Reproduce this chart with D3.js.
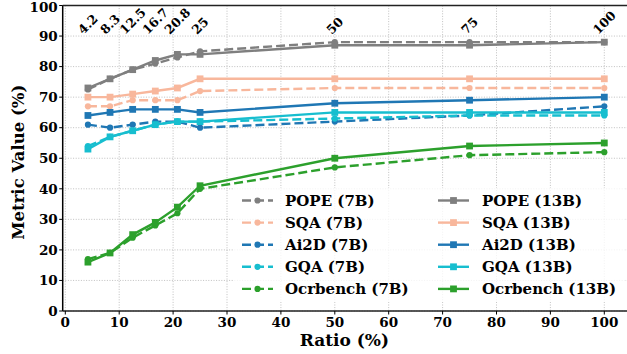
<!DOCTYPE html>
<html>
<head>
<meta charset="utf-8">
<script src="https://cdn.jsdelivr.net/npm/d3@7"></script>
<style>
  html, body { margin: 0; padding: 0; background: #fff; }
  svg { display: block; }
  svg text { font-family: 'DejaVu Serif', 'Liberation Serif', serif; font-weight: 700; }
</style>
</head>
<body>
<div id="chart"></div>
<script>
// Ratio (%) values on the x axis
const ratios = [4.2, 8.3, 12.5, 16.7, 20.8, 25, 50, 75, 100];
const ratioLabels = ['4.2', '8.3', '12.5', '16.7', '20.8', '25', '50', '75', '100'];

const benchmarks = ['POPE', 'SQA', 'Ai2D', 'GQA', 'Ocrbench'];
const benchColors = ['#7f7f7f', '#f8b79c', '#1f77b4', '#17becf', '#2ca02c'];

// 7B (dashed, circles)
const pope7 = [72.5, 76, 79, 81, 83, 85, 88, 88, 88];
const sqa7 = [67, 67, 69, 69, 69, 72, 73, 73, 73];
const ai2d7 = [61, 60, 61, 62, 62, 60, 62, 64, 67];
const gqa7 = [54, 57, 59, 61, 62, 62, 63, 64, 64];
const ocr7 = [17, 19, 24, 28, 32, 40, 47, 51, 52];

// 13B (solid, squares)
const pope13 = [73, 76, 79, 82, 84, 84, 87, 87, 88];
const sqa13 = [70, 70, 71, 72, 73, 76, 76, 76, 76];
const ai2d13 = [64, 65, 66, 66, 66, 65, 68, 69, 70];
const gqa13 = [53, 57, 59, 61, 62, 62, 65, 65, 65];
const ocr13 = [16, 19, 25, 29, 34, 41, 50, 54, 55];

const values7 = [pope7, sqa7, ai2d7, gqa7, ocr7];
const values13 = [pope13, sqa13, ai2d13, gqa13, ocr13];

const yTicks = d3.range(0, 101, 10);
const xTicks = d3.range(0, 101, 10);

const W = 627, H = 354;
const plot = { left: 62.7, right: 632, top: 5.5, bottom: 311 };

const svg = d3.select('#chart').append('svg')
  .attr('width', W).attr('height', H);

const x = d3.scaleLinear().domain([0, 100]).range([65.3, 604.3]);
const y = d3.scaleLinear().domain([0, 100]).range([plot.bottom, plot.top]);

// grid
const grid = svg.append('g').attr('stroke', '#b0b0b0').attr('stroke-width', 0.8)
  .attr('stroke-dasharray', '1,1.6');
grid.selectAll('.gx').data(xTicks).enter().append('line')
  .attr('x1', d => x(d)).attr('x2', d => x(d))
  .attr('y1', plot.top).attr('y2', plot.bottom);
grid.selectAll('.gy').data(yTicks).enter().append('line')
  .attr('x1', plot.left).attr('x2', plot.right)
  .attr('y1', d => y(d)).attr('y2', d => y(d));

// series
const line = d3.line().x((d, i) => x(ratios[i])).y(d => y(d));
const series = [];
benchmarks.forEach((b, k) => {
  series.push({ name: b + ' (7B)', color: benchColors[k], vals: values7[k], dashed: true });
  series.push({ name: b + ' (13B)', color: benchColors[k], vals: values13[k], dashed: false });
});

const lw = 2.4;
function drawMarker(g, cx, cy, s) {
  if (s.dashed) {
    g.append('circle').attr('cx', cx).attr('cy', cy).attr('r', 3.1).attr('fill', s.color);
  } else {
    g.append('rect').attr('x', cx - 3.4).attr('y', cy - 3.4).attr('width', 6.8).attr('height', 6.8)
      .attr('fill', s.color);
  }
}

series.forEach(s => {
  const g = svg.append('g');
  g.append('path').attr('d', line(s.vals)).attr('fill', 'none')
    .attr('stroke', s.color).attr('stroke-width', lw)
    .attr('stroke-dasharray', s.dashed ? '9,4' : null);
  s.vals.forEach((v, i) => drawMarker(g, x(ratios[i]), y(v), s));
});

// spines
svg.append('line').attr('x1', plot.left).attr('x2', plot.left).attr('y1', plot.top).attr('y2', plot.bottom)
  .attr('stroke', '#000').attr('stroke-width', 1.5);
svg.append('line').attr('x1', plot.left).attr('x2', plot.right).attr('y1', plot.bottom).attr('y2', plot.bottom)
  .attr('stroke', '#222').attr('stroke-width', 1.5);
svg.append('line').attr('x1', plot.left).attr('x2', plot.right).attr('y1', plot.top).attr('y2', plot.top)
  .attr('stroke', '#222').attr('stroke-width', 1.5);

// y ticks
const yAxis = svg.append('g');
yTicks.forEach(t => {
  yAxis.append('line').attr('x1', plot.left - 3.5).attr('x2', plot.left).attr('y1', y(t)).attr('y2', y(t))
    .attr('stroke', '#000').attr('stroke-width', 1);
  yAxis.append('text').attr('x', plot.left - 5).attr('y', Math.max(y(t), 7)).attr('dy', '0.35em')
    .attr('text-anchor', 'end').attr('font-size', 13.5).text(t);
});
// x ticks
const xAxis = svg.append('g');
xTicks.forEach(t => {
  xAxis.append('line').attr('x1', x(t)).attr('x2', x(t)).attr('y1', plot.bottom).attr('y2', plot.bottom + 3.5)
    .attr('stroke', '#000').attr('stroke-width', 1);
  xAxis.append('text').attr('x', x(t)).attr('y', plot.bottom + 16)
    .attr('text-anchor', 'middle').attr('font-size', 13.5).text(t);
});

// rotated ratio labels at top
ratios.forEach((r, i) => {
  const t = svg.append('text').attr('font-size', 12.5).attr('text-anchor', 'middle').text(ratioLabels[i]);
  const w = t.node().getComputedTextLength();
  const h = 9;
  const half = (w + h) / Math.SQRT2 / 2;
  const cy = 35 - half;
  t.attr('transform', `translate(${x(r)},${cy}) rotate(-45)`).attr('dy', '0.35em');
});

// axis titles
svg.append('text').attr('x', (plot.left + 626) / 2).attr('y', 346)
  .attr('text-anchor', 'middle').attr('font-size', 17).text('Ratio (%)');
svg.append('text').attr('transform', `translate(24,${(plot.top + plot.bottom) / 2 + 4}) rotate(-90)`)
  .attr('text-anchor', 'middle').attr('font-size', 16.5).text('Metric Value (%)');

// legend
const leg = svg.append('g');
leg.append('rect').attr('x', 233).attr('y', 188).attr('width', 392).attr('height', 114)
  .attr('fill', '#fff').attr('opacity', 0.8);
const cols = [{ lx: 242, tx: 285 }, { lx: 438, tx: 482 }];
series.forEach((s, idx) => {
  const col = s.dashed ? 0 : 1;
  const row = Math.floor(idx / 2);
  const ly = 200.5 + row * 22.1;
  const c = cols[col];
  leg.append('line').attr('x1', c.lx).attr('x2', c.lx + 31).attr('y1', ly).attr('y2', ly)
    .attr('stroke', s.color).attr('stroke-width', lw)
    .attr('stroke-dasharray', s.dashed ? '9,4' : null);
  drawMarker(leg, c.lx + 15.5, ly, s);
  leg.append('text').attr('x', c.tx).attr('y', ly).attr('dy', '0.35em')
    .attr('font-size', 15).text(s.name);
});
</script>
</body>
</html>
